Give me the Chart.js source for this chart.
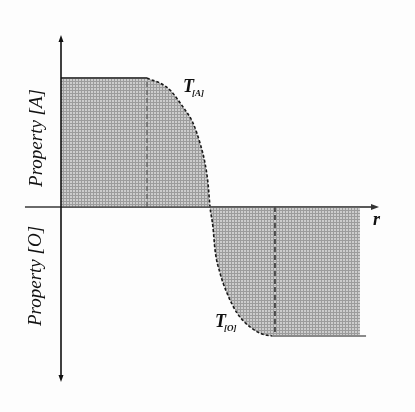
<!DOCTYPE html>
<html>
<head>
<meta charset="utf-8">
<script src="https://cdn.jsdelivr.net/npm/chart.js@4/dist/chart.umd.min.js"></script>
<style>
  html, body { margin: 0; padding: 0; background: #fdfdfd; }
  canvas { display: block; }
</style>
</head>
<body>
<canvas id="chart" width="415" height="412"></canvas>
<script>
// Profile: r on x, property on y (+1 = [A], -1 = [O])
const plateauR = [0, 1];
const plateauY = [1, 1];
const curveR = [1, 1.035, 1.151, 1.267, 1.419, 1.535, 1.616, 1.674, 1.709, 1.733, 1.767, 1.791, 1.849, 1.93, 2.047, 2.198, 2.337, 2.453];
const curveY = [1, 0.99, 0.961, 0.907, 0.775, 0.651, 0.496, 0.341, 0.186, 0, -0.155, -0.333, -0.512, -0.667, -0.822, -0.93, -0.984, -1];
const tailR = [2.453, 3.547];
const tailY = [-1, -1];
const shadeEndR = 3.477;
const dashLinesR = [1, 2.488];
const dashLinesY = [1, -1];

// axis extents and label anchors (data units)
const xAxisRange = [-0.419, 3.698];
const yAxisRange = [-1.357, 1.333];
const labels = [
  { text: 'T', sub: '[A]', r: 1.42, y: 0.891 },
  { text: 'T', sub: '[O]', r: 1.79, y: -0.93 }
];
const axisNames = [
  { text: 'Property [A]', r: -0.279, y: 0.535 },
  { text: 'Property [O]', r: -0.29, y: -0.535 }
];
const rLabel = { text: 'r', r: 3.628, y: -0.14 };

const toPoints = (xs, ys) => xs.map((x, i) => ({ x: x, y: ys[i] }));

// dotted gray fill like the scanned halftone
function makePattern() {
  const c = document.createElement('canvas');
  c.width = 3; c.height = 3;
  const g = c.getContext('2d');
  g.fillStyle = '#cdcdcd';
  g.fillRect(0, 0, 3, 3);
  g.fillStyle = '#9c9c9c';
  g.fillRect(0, 0, 3, 1);
  g.fillRect(0, 0, 1, 3);
  return g.createPattern(c, 'repeat');
}

const shadePoints = toPoints(plateauR, plateauY)
  .concat(toPoints(curveR.slice(1), curveY.slice(1)))
  .concat([{ x: shadeEndR, y: -1 }]);

const decorPlugin = {
  id: 'decor',
  beforeDatasetsDraw(chart) {
    const ctx = chart.ctx;
    const xs = chart.scales.x, ys = chart.scales.y;
    const y0 = ys.getPixelForValue(0);
    ctx.save();
    // horizontal axis
    ctx.strokeStyle = '#6a6a6a';
    ctx.lineWidth = 2;
    ctx.beginPath();
    ctx.moveTo(xs.getPixelForValue(xAxisRange[0]), y0);
    ctx.lineTo(xs.getPixelForValue(xAxisRange[1]) - 4, y0);
    ctx.stroke();
    ctx.restore();
  },
  afterDatasetsDraw(chart) {
    const ctx = chart.ctx;
    const xs = chart.scales.x, ys = chart.scales.y;
    const x0 = xs.getPixelForValue(0), y0 = ys.getPixelForValue(0);
    const xEnd = xs.getPixelForValue(xAxisRange[1]);
    const yTop = ys.getPixelForValue(yAxisRange[1]);
    const yBot = ys.getPixelForValue(yAxisRange[0]);
    ctx.save();
    // horizontal axis line over the fill
    ctx.strokeStyle = '#555';
    ctx.lineWidth = 1.6;
    ctx.beginPath();
    ctx.moveTo(x0, y0);
    ctx.lineTo(xEnd - 4, y0);
    ctx.stroke();
    // vertical axis
    ctx.strokeStyle = '#111';
    ctx.fillStyle = '#111';
    ctx.lineWidth = 1.6;
    ctx.beginPath();
    ctx.moveTo(x0, yTop + 3);
    ctx.lineTo(x0, yBot - 3);
    ctx.stroke();
    // arrow heads
    ctx.beginPath();
    ctx.moveTo(x0, yTop); ctx.lineTo(x0 - 2.5, yTop + 7); ctx.lineTo(x0 + 2.5, yTop + 7); ctx.closePath();
    ctx.moveTo(x0, yBot); ctx.lineTo(x0 - 2.5, yBot - 7); ctx.lineTo(x0 + 2.5, yBot - 7); ctx.closePath();
    ctx.fill();
    ctx.fillStyle = '#333';
    ctx.beginPath();
    ctx.moveTo(xEnd, y0); ctx.lineTo(xEnd - 8, y0 - 3); ctx.lineTo(xEnd - 8, y0 + 3); ctx.closePath();
    ctx.fill();

    // T labels
    ctx.fillStyle = '#111';
    ctx.textBaseline = 'alphabetic';
    labels.forEach(l => {
      const px = xs.getPixelForValue(l.r), py = ys.getPixelForValue(l.y);
      ctx.font = 'italic bold 18px "Liberation Serif", "DejaVu Serif", serif';
      ctx.fillText(l.text, px, py);
      const w = ctx.measureText(l.text).width;
      ctx.font = 'italic bold 9px "Liberation Serif", "DejaVu Serif", serif';
      ctx.fillText(l.sub, px + w - 2, py + 4);
    });
    // r
    ctx.font = 'italic bold 18px "Liberation Serif", "DejaVu Serif", serif';
    ctx.fillText(rLabel.text, xs.getPixelForValue(rLabel.r), ys.getPixelForValue(rLabel.y));

    // rotated axis names
    ctx.font = 'italic 19px "Liberation Serif", "DejaVu Serif", serif';
    ctx.textAlign = 'center';
    ctx.textBaseline = 'middle';
    axisNames.forEach(a => {
      ctx.save();
      ctx.translate(xs.getPixelForValue(a.r), ys.getPixelForValue(a.y));
      ctx.rotate(-Math.PI / 2);
      ctx.fillText(a.text, 0, 0);
      ctx.restore();
    });
    ctx.restore();
  }
};

new Chart(document.getElementById('chart'), {
  type: 'line',
  data: {
    datasets: [
      {
        label: 'shade',
        data: shadePoints,
        order: 10,
        borderWidth: 0,
        borderColor: 'rgba(0,0,0,0)',
        backgroundColor: makePattern(),
        fill: 'origin',
        pointRadius: 0,
        cubicInterpolationMode: 'monotone'
      },
      {
        label: 'plateau [A]',
        data: toPoints(plateauR, plateauY),
        order: 1,
        borderColor: '#4a4a4a',
        borderWidth: 2,
        pointRadius: 0,
        fill: false
      },
      {
        label: 'transition',
        data: toPoints(curveR, curveY),
        order: 1,
        borderColor: '#1a1a1a',
        borderWidth: 1.6,
        borderDash: [3, 2],
        pointRadius: 0,
        fill: false,
        cubicInterpolationMode: 'monotone'
      },
      {
        label: 'plateau [O]',
        data: toPoints(tailR, tailY),
        order: 1,
        borderColor: '#8a8a8a',
        borderWidth: 2,
        pointRadius: 0,
        fill: false
      },
      {
        label: 'marker A',
        data: [{ x: dashLinesR[0], y: 0 }, { x: dashLinesR[0], y: dashLinesY[0] }],
        order: 1,
        borderColor: '#666',
        borderWidth: 1.4,
        borderDash: [5, 3],
        pointRadius: 0,
        fill: false
      },
      {
        label: 'marker O',
        data: [{ x: dashLinesR[1], y: 0 }, { x: dashLinesR[1], y: dashLinesY[1] }],
        order: 1,
        borderColor: '#222',
        borderWidth: 1.4,
        borderDash: [5, 3],
        pointRadius: 0,
        fill: false
      }
    ]
  },
  options: {
    responsive: false,
    animation: false,
    devicePixelRatio: 1,
    layout: { padding: 0 },
    plugins: {
      legend: { display: false },
      tooltip: { enabled: false }
    },
    scales: {
      x: { type: 'linear', min: -0.7093, max: 4.1163, display: false },
      y: { type: 'linear', min: -1.5891, max: 1.6047, display: false }
    }
  },
  plugins: [decorPlugin]
});
</script>
</body>
</html>
